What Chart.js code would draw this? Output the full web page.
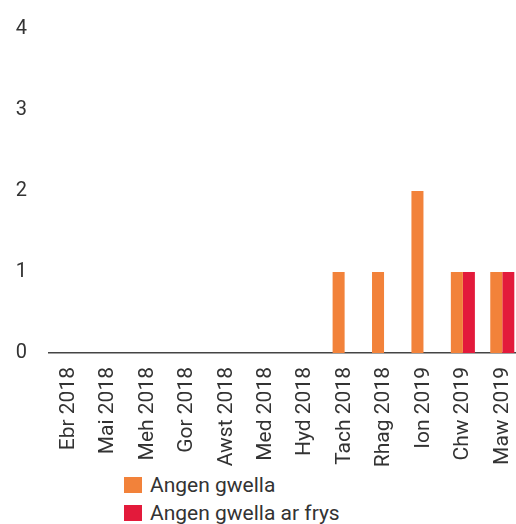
<!DOCTYPE html>
<html>
<head>
<meta charset="utf-8">
<script src="https://cdn.jsdelivr.net/npm/chart.js@4/dist/chart.umd.min.js"></script>
<style>
  html, body { margin: 0; padding: 0; background: #fff; overflow: hidden; }
  .wrap { position: relative; width: 522px; height: 524px; }
  #chart { position: absolute; left: 0; top: 0; }
  .legend { position: absolute; left: 124px; top: 471px; font-family: Roboto, sans-serif; font-size: 21px; color: #333; }
  .legend-item { display: flex; align-items: center; height: 28px; }
  .legend-box { width: 18px; height: 16px; margin-right: 8px; }
</style>
</head>
<body>
<div class="wrap">
  <canvas id="chart" width="522" height="470"></canvas>
  <div class="legend" id="legend"></div>
</div>
<script>
/* ── DATA ─────────────────────────────────────────────────── */
const months = ['Ebr 2018', 'Mai 2018', 'Meh 2018', 'Gor 2018', 'Awst 2018', 'Med 2018',
                'Hyd 2018', 'Tach 2018', 'Rhag 2018', 'Ion 2019', 'Chw 2019', 'Maw 2019'];
const angenGwella     = [0, 0, 0, 0, 0, 0, 0, 1, 1, 2, 1, 1];
const angenGwellaFrys = [0, 0, 0, 0, 0, 0, 0, 0, 0, 0, 1, 1];
const yTicks = [0, 1, 2, 3, 4];

const ORANGE = '#f2823a';
const RED    = '#e31a3b';
const TEXT   = '#333333';
const FONT   = { family: 'Roboto, sans-serif', size: 20 };

/* ── CHART ────────────────────────────────────────────────── */
const chart = new Chart(document.getElementById('chart'), {
  type: 'bar',
  data: {
    labels: months,
    datasets: [
      { label: 'Angen gwella',         data: angenGwella,     backgroundColor: ORANGE },
      { label: 'Angen gwella ar frys', data: angenGwellaFrys, backgroundColor: RED }
    ]
  },
  options: {
    responsive: false,
    animation: false,
    categoryPercentage: 0.61,
    barPercentage: 1.0,
    layout: { padding: { top: 29, left: 0, right: 0, bottom: 0 } },
    plugins: {
      legend: { display: false },
      tooltip: { enabled: false }
    },
    scales: {
      x: {
        grid: { display: false, drawTicks: false },
        border: { display: true, color: '#444', width: 1.5 },
        ticks: {
          color: TEXT, font: { family: 'Roboto, sans-serif', size: 21 },
          minRotation: 90, maxRotation: 90,
          autoSkip: false, padding: 14
        },
        afterFit: s => { s.height = 117; s.paddingLeft = 0; s.paddingRight = 0; }
      },
      y: {
        min: 0, max: 4,
        grid: { display: false, drawTicks: false },
        border: { display: false },
        afterBuildTicks: s => { s.ticks = yTicks.map(v => ({ value: v })); },
        ticks: { color: TEXT, font: FONT, padding: 22 },
        afterFit: s => { s.width = 49; s.paddingTop = 0; s.paddingBottom = 0; }
      }
    }
  }
});

/* ── LEGEND (vertical, below the axis labels) ─────────────── */
const legendEl = document.getElementById('legend');
chart.data.datasets.forEach(ds => {
  const item = document.createElement('div');
  item.className = 'legend-item';
  item.innerHTML = `<span class="legend-box" style="background:${ds.backgroundColor}"></span><span>${ds.label}</span>`;
  legendEl.appendChild(item);
});
</script>
</body>
</html>
